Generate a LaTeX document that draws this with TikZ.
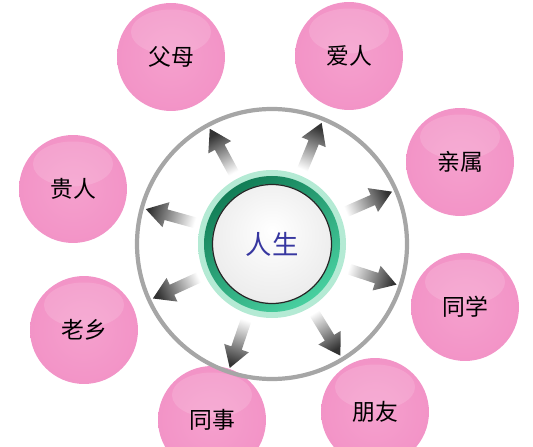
\documentclass[tikz,border=0pt]{standalone}
\usepackage{fontspec}
\newfontfamily\cjk{Noto Sans CJK SC}
\usepackage{tikz}
\usepackage{xcolor}
\usetikzlibrary{calc,positioning}

\definecolor{pinkA}{RGB}{245,160,205}
\definecolor{pinkB}{RGB}{242,146,198}
\definecolor{pinkC}{RGB}{238,134,190}
\definecolor{pinkD}{RGB}{248,200,224}
\definecolor{mint}{RGB}{180,234,212}
\definecolor{greendark}{RGB}{18,125,86}
\definecolor{greenlight}{RGB}{72,208,160}
\definecolor{lifeblue}{RGB}{55,55,160}

\pgfdeclareradialshading{pinkball}{\pgfpoint{0bp}{0bp}}{color(0bp)=(pinkA); color(28bp)=(pinkB); color(44bp)=(pinkC); color(47.5bp)=(pinkB); color(50bp)=(pinkD)}
\pgfdeclareradialshading{hubdisk}{\pgfpoint{0bp}{6bp}}{color(0bp)=(white); color(26bp)=(black!7); color(42bp)=(black!16); color(50bp)=(black!36)}
\pgfdeclareradialshading{hubhalo}{\pgfpoint{0bp}{0bp}}{color(0bp)=(mint); color(44bp)=(mint); color(50bp)=(white)}

\begin{document}
\begin{tikzpicture}[x=0.02cm,y=0.02cm,
  ball/.style={circle,minimum size=2.16cm,inner sep=0pt,shade,shading=pinkball,
    font=\cjk\fontsize{13}{15}\selectfont,
    path picture={\fill[white,opacity=.14] ([yshift=0.5cm]path picture bounding box.center) ellipse (0.8cm and 0.45cm);}},
  hubnode/.style={circle,minimum size=2.36cm,inner sep=0pt,shade,shading=hubdisk,
    text=lifeblue,font=\cjk\fontsize{15}{17}\selectfont}]

\useasboundingbox (0,0) rectangle (533,446);

\node[ball] (fumu) at (171,389) {父母};
\node[ball] (airen) at (349,390) {爱人};
\node[ball] (qinshu) at (460,284) {亲属};
\node[ball] (tongxue) at (465,139) {同学};
\node[ball] (pengyou) at (375,34) {朋友};
\node[ball] (tongshi) at (212,26) {同事};
\node[ball] (laoxiang) at (84,116) {老乡};
\node[ball] (guiren) at (73,257) {贵人};

\shade[shading=hubhalo] (272,202) circle (74);
\node[hubnode] (hub) at (272,202) {人生};
\shade[even odd rule,top color=greendark,bottom color=greenlight,shading angle=35]
  (hub.center) circle (68) circle (60);
\draw[black!85,line width=0.7pt] (hub.center) circle (59.5);

\draw[black!35,line width=2.4pt] (hub.center) circle (135);

\foreach \t in {fumu,airen,qinshu,tongxue,pengyou,tongshi,laoxiang,guiren}{
  \pgfmathanglebetweenpoints{\pgfpointanchor{hub}{center}}{\pgfpointanchor{\t}{center}}
  \pgfmathsetmacro\sang{\pgfmathresult-90}
  \coordinate (tail) at ($(hub.center)!1.55cm!(\t)$);
  \coordinate (neck) at ($(hub.center)!2.2cm!(\t)$);
  \coordinate (tip) at ($(hub.center)!2.62cm!(\t)$);
  \shade[top color=black!80,bottom color=white,middle color=black!40,shading angle=\sang]
    ($(tail)!0.11cm!90:(tip)$) -- ($(neck)!0.11cm!90:(tip)$) -- ($(neck)!0.26cm!90:(tip)$)
    -- (tip) -- ($(neck)!0.26cm!-90:(tip)$) -- ($(neck)!0.11cm!-90:(tip)$)
    -- ($(tail)!0.11cm!-90:(tip)$) -- cycle;
}

\end{tikzpicture}
\end{document}
